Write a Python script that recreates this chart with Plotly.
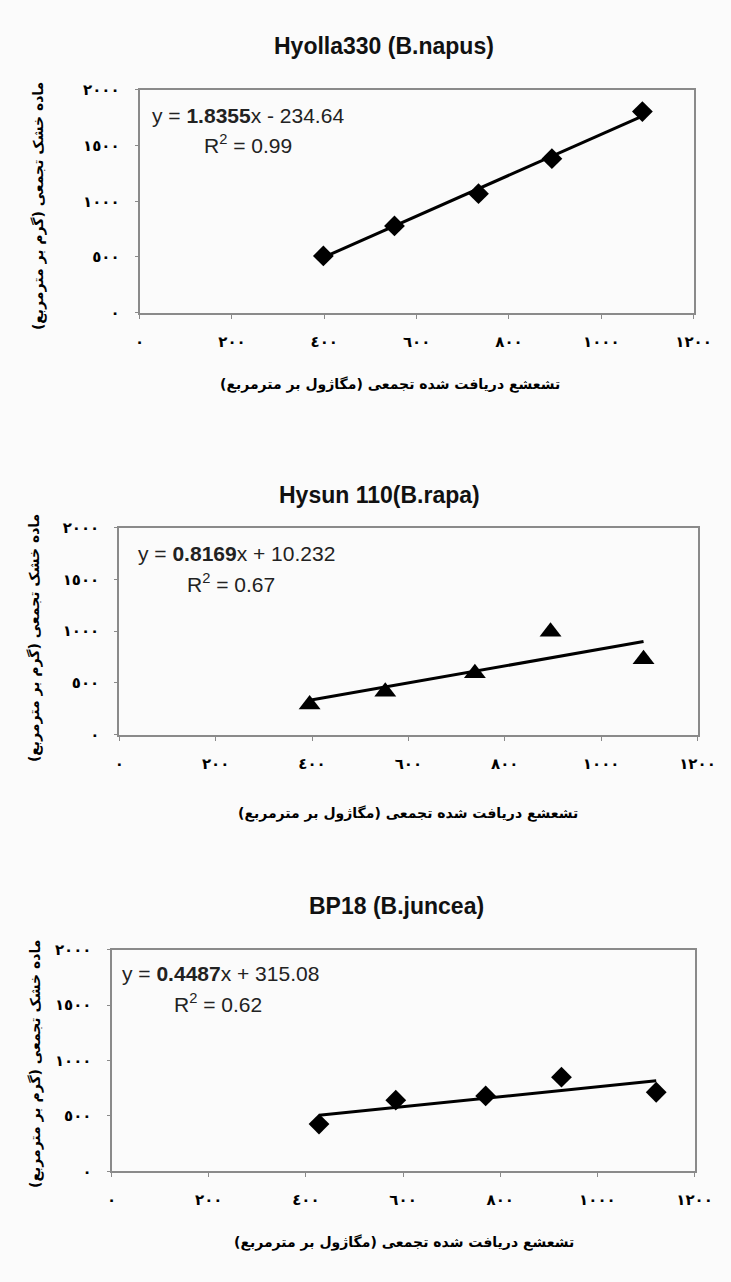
import plotly.graph_objects as go

# ---------------- data ----------------
titles = ["Hyolla330 (B.napus)", "Hysun 110(B.rapa)", "BP18 (B.juncea)"]

napus_x = [398, 552, 734, 893, 1089]
napus_y = [509, 779, 1068, 1382, 1805]
rapa_x = [395, 552, 738, 895, 1088]
rapa_y = [292, 415, 593, 995, 729]
juncea_x = [427, 585, 770, 926, 1121]
juncea_y = [427, 643, 681, 850, 714]

slopes = [1.8355, 0.8169, 0.4487]
intercepts = [-234.64, 10.232, 315.08]
slope_text = ["1.8355", "0.8169", "0.4487"]
intercept_text = ["- 234.64", "+ 10.232", "+ 315.08"]
r2_text = ["0.99", "0.67", "0.62"]

x_tickvals = [0, 200, 400, 600, 800, 1000, 1200]
x_ticktext = ["٠", "٢٠٠", "٤٠٠", "٦٠٠", "٨٠٠", "١٠٠٠", "١٢٠٠"]
y_tickvals = [0, 500, 1000, 1500, 2000]
y_ticktext = ["٠", "٥٠٠", "١٠٠٠", "١٥٠٠", "٢٠٠٠"]

x_title = "تشعشع دریافت شده تجمعی (مگاژول بر مترمربع)"
y_title = "ماده خشک تجمعی (گرم بر مترمربع)"

# ---------------- layout geometry (pixels) ----------------
W, H = 731, 1282
series = [(napus_x, napus_y, "diamond"), (rapa_x, rapa_y, "triangle-up"), (juncea_x, juncea_y, "diamond")]
boxes = [  # left, right, top, bottom
    (139, 711, 82, 308),
    (118, 715, 526, 736),
    (110, 712, 954, 1179),
]
title_pos = [(391, 38), (387, 493), (404, 910)]
xtitle_pos = [(398, 381), (416, 816), (412, 1251)]
ytitle_pos = [(34, 200), (30, 638), (32, 1070)]
eq_pos = [(150, 108), (135, 552), (119, 978)]
r2_pos = [(203, 137), (186, 582), (172, 1008)]


def px(xp):
    return xp / W


def py(yp):
    return 1 - yp / H


fig = go.Figure()
annotations = []
layout_axes = {}
for i, ((xs, ys, sym), (l, r, t, b)) in enumerate(zip(series, boxes)):
    n = "" if i == 0 else str(i + 1)
    xa, ya = "x" + n, "y" + n
    # trend line from regression coefficients
    x0, x1 = min(xs), max(xs)
    fig.add_trace(go.Scatter(
        x=[x0, x1], y=[slopes[i] * x0 + intercepts[i], slopes[i] * x1 + intercepts[i]],
        mode="lines", line=dict(color="black", width=3), xaxis=xa, yaxis=ya,
        showlegend=False, hoverinfo="skip"))
    fig.add_trace(go.Scatter(
        x=xs, y=ys, mode="markers",
        marker=dict(symbol=sym, size=16 if sym == "diamond" else 19, color="black",
                    line=dict(width=0)),
        xaxis=xa, yaxis=ya, showlegend=False))

    layout_axes["xaxis" + n] = dict(
        domain=[px(l), px(r)], anchor=ya, range=[0, 1200],
        tickvals=x_tickvals, ticktext=x_ticktext,
        tickfont=dict(family="DejaVu Sans", size=15, color="black", weight="bold"),
        ticks="outside", ticklen=4, tickcolor="#8a8a8a", tickwidth=1,
        ticklabelstandoff=10,
        showline=True, linecolor="#8a8a8a", linewidth=2, mirror=True,
        showgrid=False, zeroline=False)
    layout_axes["yaxis" + n] = dict(
        domain=[py(b), py(t)], anchor=xa, range=[0, 2000],
        tickvals=y_tickvals, ticktext=y_ticktext,
        tickfont=dict(family="DejaVu Sans", size=15, color="black", weight="bold"),
        ticks="outside", ticklen=3, tickcolor="#8a8a8a", tickwidth=1,
        ticklabelstandoff=12,
        showline=True, linecolor="#8a8a8a", linewidth=2, mirror=True,
        showgrid=False, zeroline=False)

    tx, ty = title_pos[i]
    annotations.append(dict(text="<b>" + titles[i] + "</b>", x=px(tx), y=py(ty),
                            xref="paper", yref="paper", xanchor="center", yanchor="middle",
                            showarrow=False,
                            font=dict(family="Liberation Sans", size=23, color="#111")))
    xx, xy = xtitle_pos[i]
    annotations.append(dict(text="<b>" + x_title + "</b>", x=px(xx), y=py(xy),
                            xref="paper", yref="paper", xanchor="center", yanchor="middle",
                            showarrow=False,
                            font=dict(family="DejaVu Sans", size=14, color="black")))
    yx, yy = ytitle_pos[i]
    annotations.append(dict(text="<b>" + y_title + "</b>", x=px(yx), y=py(yy),
                            xref="paper", yref="paper", xanchor="center", yanchor="middle",
                            textangle=-90, showarrow=False,
                            font=dict(family="DejaVu Sans", size=14, color="black")))
    ex, ey = eq_pos[i]
    annotations.append(dict(text="y = <b>" + slope_text[i] + "</b>x " + intercept_text[i],
                            x=px(ex), y=py(ey), xref="paper", yref="paper",
                            xanchor="left", yanchor="middle", showarrow=False,
                            font=dict(family="Liberation Sans", size=21, color="#222")))
    rx, ry = r2_pos[i]
    annotations.append(dict(text="R<sup>2</sup> = " + r2_text[i],
                            x=px(rx), y=py(ry), xref="paper", yref="paper",
                            xanchor="left", yanchor="middle", showarrow=False,
                            font=dict(family="Liberation Sans", size=21, color="#222")))

fig.update_layout(
    width=W, height=H,
    margin=dict(l=0, r=0, t=0, b=0),
    paper_bgcolor="#fbfbfb", plot_bgcolor="#fbfbfb",
    annotations=annotations,
    **layout_axes)

fig.write_html("out.html", config={"displayModeBar": False},
               post_script="document.body.style.margin='0';")
